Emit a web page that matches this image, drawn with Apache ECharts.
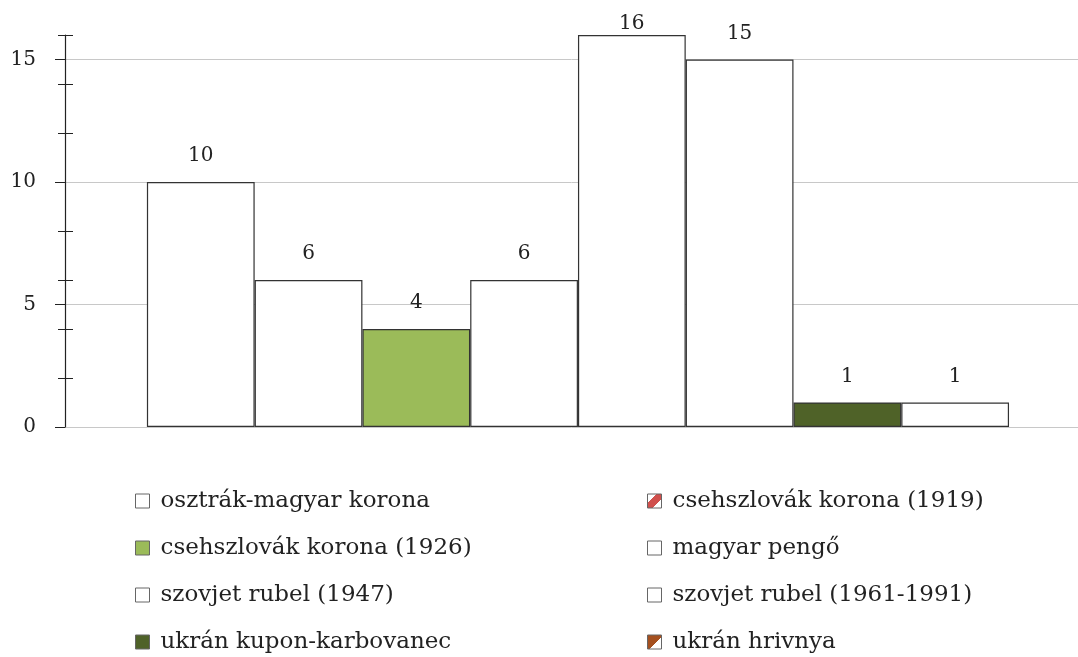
<!DOCTYPE html>
<html>
<head>
<meta charset="utf-8">
<style>
  html, body { margin: 0; padding: 0; background: #fff; }
  #chart { width: 1078px; height: 657px; }
</style>
<script src="https://cdn.jsdelivr.net/npm/echarts@6/dist/echarts.min.js"></script>
</head>
<body>
<div id="chart"></div>
<script>
const currencies = [
  "osztrák-magyar korona",
  "csehszlovák korona (1919)",
  "csehszlovák korona (1926)",
  "magyar pengő",
  "szovjet rubel (1947)",
  "szovjet rubel (1961-1991)",
  "ukrán kupon-karbovanec",
  "ukrán hrivnya",
];
const counts = [10, 6, 4, 6, 16, 15, 1, 1];
const barColors = ["#fff", "#fff", "#9bbb59", "#fff", "#fff", "#fff", "#4f6228", "#fff"];
const yTicks = ["0", "1", "2", "3", "4", "5", "6", "7", "8", "9", "10", "11", "12", "13", "14", "15", "16"];

const serif = "DejaVu Serif";
const ink = "#222";

const legendFill = {
  "csehszlovák korona (1919)": new echarts.graphic.LinearGradient(0, 0, 1, 1, [
    { offset: 0, color: "#fff" }, { offset: 0.32, color: "#fff" },
    { offset: 0.32, color: "#d0504d" }, { offset: 0.68, color: "#d0504d" },
    { offset: 0.68, color: "#fff" }, { offset: 1, color: "#fff" },
  ]),
  "ukrán hrivnya": new echarts.graphic.LinearGradient(0, 0, 1, 1, [
    { offset: 0, color: "#a5501f" }, { offset: 0.55, color: "#a5501f" },
    { offset: 0.55, color: "#fff" }, { offset: 1, color: "#fff" },
  ]),
};

const chart = echarts.init(document.getElementById("chart"));

const series = currencies.map((name, i) => ({
  name,
  type: "bar",
  stack: "all",
  barWidth: 107.75,
  data: [[i, counts[i]]],
  itemStyle: { color: barColors[i], borderColor: "#333", borderWidth: 1.2 },
  label: {
    show: true,
    position: "top",
    distance: counts[i] === 16 ? 1 : 16,
    color: ink,
    fontFamily: serif,
    fontSize: 20,
    formatter: (p) => p.value[1],
  },
}));

function legendItems(start) {
  return currencies
    .filter((_, i) => i % 2 === start)
    .map((name) =>
      legendFill[name] ? { name, itemStyle: { color: legendFill[name] } } : { name }
    );
}

function legend(start, left) {
  return {
    data: legendItems(start),
    orient: "vertical",
    left,
    top: 489,
    padding: 0,
    icon: "rect",
    itemWidth: 14,
    itemHeight: 14,
    itemGap: 23,
    selectedMode: false,
    itemStyle: { borderColor: "#666", borderWidth: 1 },
    textStyle: { color: ink, fontFamily: serif, fontSize: 23, lineHeight: 24, padding: [0, 0, 0, 6] },
  };
}

chart.setOption({
  backgroundColor: "#fff",
  animation: false,
  grid: { left: 65, right: 0, top: 35, bottom: 230, outerBoundsMode: "none" },
  legend: [legend(0, 135), legend(1, 647)],
  xAxis: {
    type: "value",
    min: -1.26,
    max: 8.14,
    show: false,
    splitLine: { show: false },
  },
  yAxis: [
    {
      type: "value",
      position: "left",
      min: 0,
      max: 16,
      interval: 5,
      axisLine: { show: true, onZero: false, lineStyle: { color: "#222", width: 1.2 } },
      axisTick: { show: false },
      axisLabel: { show: false },
      splitLine: { show: true, showMaxLine: false, lineStyle: { color: "#c8c8c8", width: 1 } },
    },
    {
      type: "category",
      position: "left",
      data: yTicks,
      boundaryGap: false,
      axisLine: { show: false, onZero: false },
      axisTick: {
        show: true,
        length: 10,
        interval: (idx) => idx % 5 === 0,
        lineStyle: { color: "#222" },
      },
      axisLabel: {
        show: true,
        interval: (idx) => idx % 5 === 0,
        margin: 29,
        align: "right",
        color: ink,
        fontFamily: serif,
        fontSize: 20,
      },
      splitLine: { show: false },
    },
    {
      type: "category",
      position: "left",
      data: yTicks,
      boundaryGap: false,
      offset: -8,
      axisLine: { show: false, onZero: false },
      axisTick: {
        show: true,
        length: 15,
        interval: (idx) => idx % 2 === 0 && idx % 5 !== 0,
        lineStyle: { color: "#222" },
      },
      axisLabel: { show: false },
      splitLine: { show: false },
    },
  ],
  series,
});

window.addEventListener("resize", () => chart.resize());
</script>
</body>
</html>
